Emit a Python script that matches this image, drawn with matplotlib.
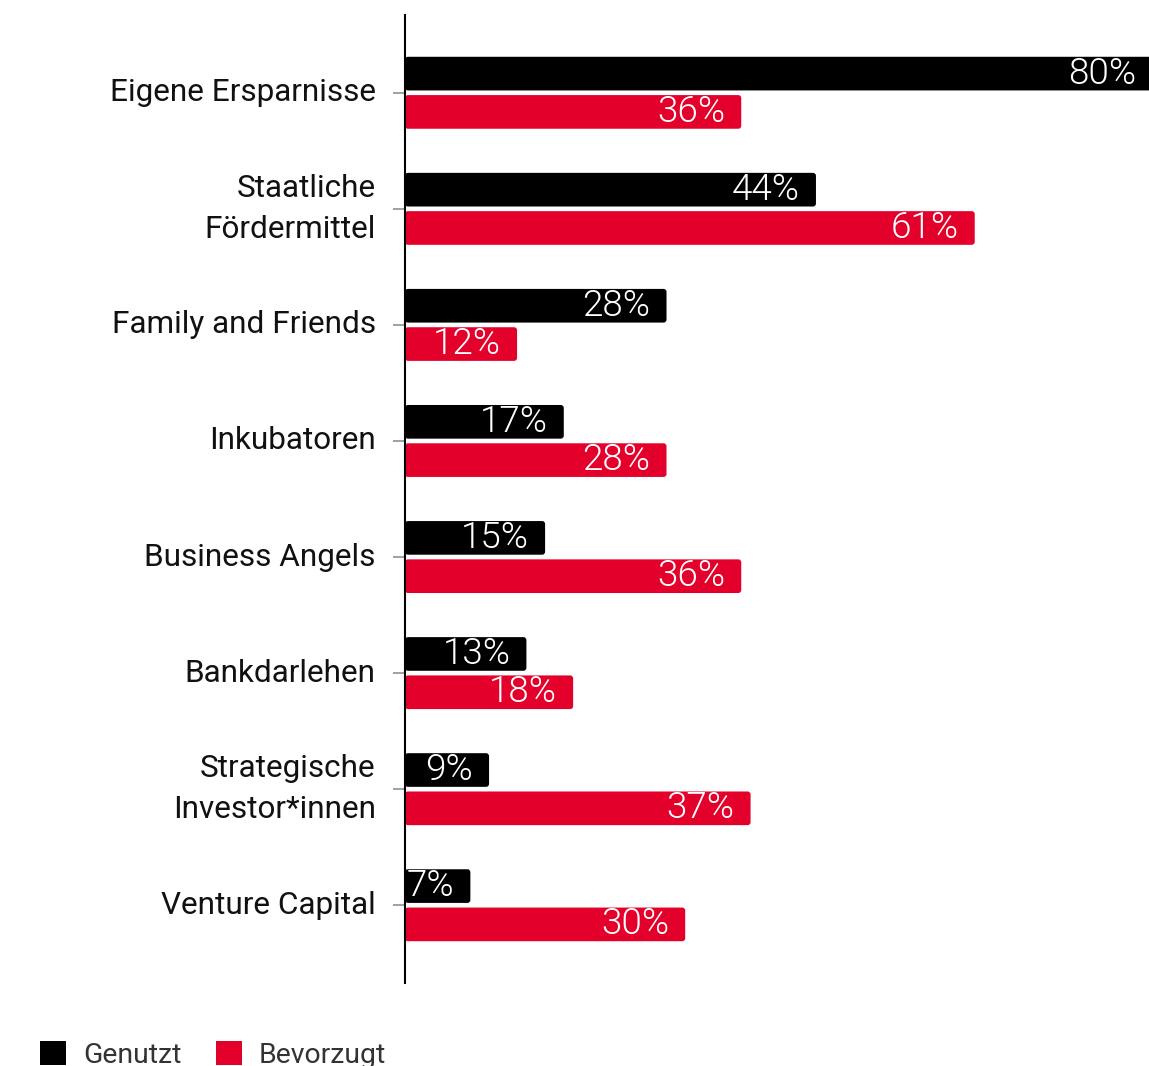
import matplotlib
matplotlib.use("Agg")
import matplotlib.pyplot as plt
from matplotlib.patches import FancyBboxPatch, Patch
import numpy as np

plt.rcParams['font.family'] = ['Roboto', 'DejaVu Sans']

categories = ["Eigene Ersparnisse", "Staatliche\nFördermittel", "Family and Friends",
              "Inkubatoren", "Business Angels", "Bankdarlehen",
              "Strategische\nInvestor*innen", "Venture Capital"]
genutzt = [80, 44, 28, 17, 15, 13, 9, 7]
bevorzugt = [36, 61, 12, 28, 36, 18, 37, 30]
series_names = ["Genutzt", "Bevorzugt"]
colors = ["#000000", "#E3002B"]

W, H = 1149, 1066
fig = plt.figure(figsize=(W / 100, H / 100), dpi=100)
ax = fig.add_axes([405 / W, (H - 983) / H, (W - 405) / W, (983 - 15) / H])

y = np.arange(len(categories))
bh = 0.29
off = 0.165
px_x = 9.34
xmax = 744 / px_x
ax.set_xlim(0, xmax)
ax.set_ylim(len(categories) - 1 + 0.67, -0.67)

px_y = (983 - 15) / (len(categories) - 1 + 1.34)
r_px = 3.0
rx = r_px / px_x
aspect = (r_px / px_y) / rx

for vals, col, sign in [(genutzt, colors[0], -1), (bevorzugt, colors[1], 1)]:
    bars = ax.barh(y + sign * off, vals, height=bh, color=col)
    for b, v in zip(bars.patches, vals):
        x0, y0, w, h = b.get_x(), b.get_y(), b.get_width(), b.get_height()
        b.set_visible(False)
        p = FancyBboxPatch((x0, y0), w, h,
                           boxstyle=f"round,pad=0,rounding_size={rx}",
                           mutation_aspect=aspect, fc=col, ec='none', zorder=2)
        ax.add_patch(p)
        ax.annotate(f"{v}%", xy=(v, y0 + h / 2), xytext=(-11.5, 0),
                    textcoords='offset points', ha='right', va='center',
                    color='white', fontsize=26.5, fontweight=300,
                    zorder=3, annotation_clip=False)

ax.set_yticks(y)
ax.set_yticklabels(categories, fontsize=22.7, color='#111111', linespacing=1.5)
ax.tick_params(axis='y', length=9, width=1.3, color='#999999', pad=12)
for lbl in ax.get_yticklabels():
    lbl.set_verticalalignment('center')
ax.set_xticks([])
for s in ['top', 'right', 'bottom']:
    ax.spines[s].set_visible(False)
ax.spines['left'].set_linewidth(1.5)
ax.spines['left'].set_color('black')
ax.spines['left'].set_zorder(4)

handles = [Patch(facecolor=c, edgecolor='none') for c in colors]
fig.legend(handles, series_names, loc='center left',
           bbox_to_anchor=(40 / W, 11 / H), ncol=2, frameon=False,
           fontsize=20.4, handlelength=0.92, handleheight=0.92,
           handletextpad=0.6, columnspacing=1.22, borderpad=0,
           borderaxespad=0, labelcolor='#333333')

fig.savefig("out.png", dpi=100)
